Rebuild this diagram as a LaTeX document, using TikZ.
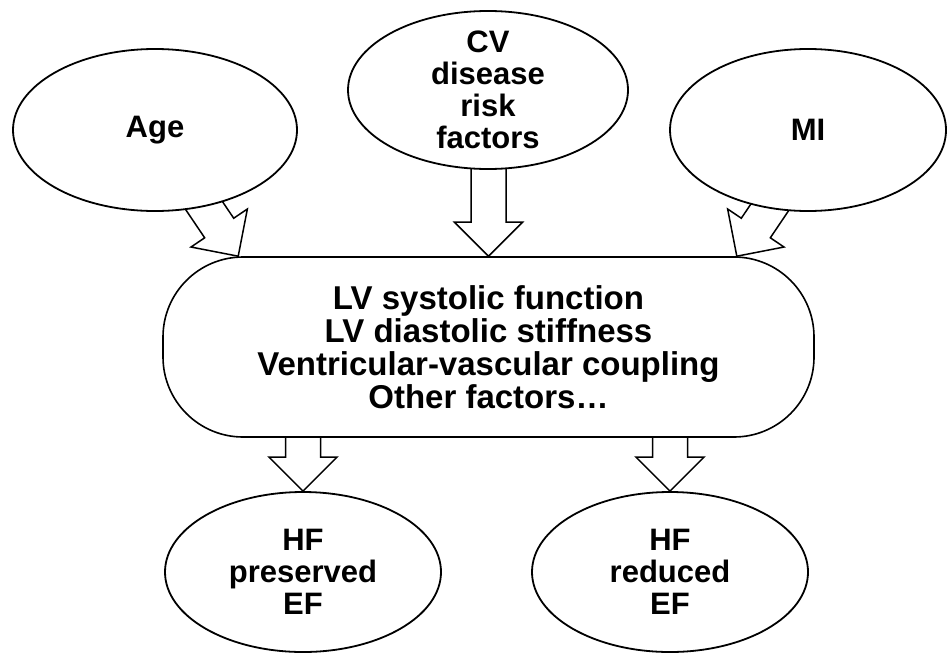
\documentclass[tikz,border=0pt]{standalone}
\usepackage{fontspec}
\setmainfont{Liberation Sans}
\usetikzlibrary{shapes.geometric,calc}
\pgfdeclarelayer{bg}
\pgfsetlayers{bg,main}
\tikzset{
  bubble/.style={ellipse, draw=black, line width=1.8pt, fill=white, inner sep=0pt},
  hub/.style={rectangle, draw=black, line width=1.6pt, fill=white, rounded corners=80pt,
    minimum width=651pt, minimum height=180pt, inner sep=0pt},
  txt/.style={align=center, inner sep=0pt, font=\bfseries\fontsize{31}{32}\selectfont},
  hubtxt/.style={txt, font=\bfseries\fontsize{33}{33}\selectfont},
  blockarrow/.style={draw=black, line width=1.5pt, fill=white, line join=miter,
    to path={let \p1=(\tikztostart), \p2=(\tikztotarget), \n1={atan2(\y2-\y1,\x2-\x1)} in
      ($(\p1)+(\n1+90:17.5pt)$)
      -- ($(\p2)+(\n1:-34pt)+(\n1+90:17.5pt)$)
      -- ($(\p2)+(\n1:-34pt)+(\n1+90:34pt)$)
      -- (\p2)
      -- ($(\p2)+(\n1:-34pt)+(\n1-90:34pt)$)
      -- ($(\p2)+(\n1:-34pt)+(\n1-90:17.5pt)$)
      -- ($(\p1)+(\n1-90:17.5pt)$) -- cycle}}
}
\begin{document}
\begin{tikzpicture}[x=1pt,y=-1pt]
\useasboundingbox (0,0) rectangle (952,656);
% shapes
\node[hub] (hub) at (488.5,347) {};
\node[hubtxt] (hubt) at (hub.center) {LV systolic function\\LV diastolic stiffness\\Ventricular-vascular coupling\\Other factors\ldots};
\node[bubble, minimum width=284pt, minimum height=162pt] (age) at (155,130) {};
\node[txt] (aget) at (age.center) {Age};
\node[bubble, minimum width=280pt, minimum height=158pt] (cv) at (488,90) {};
\node[txt] (cvt) at (cv.center) {CV\\disease\\risk\\factors};
\node[bubble, minimum width=276pt, minimum height=162pt] (mi) at (808,130) {};
\node[txt] (mit) at (mi.center) {MI};
\node[bubble, minimum width=276pt, minimum height=160pt] (hfp) at (303,572) {};
\node[txt] (hfpt) at (hfp.center) {HF\\preserved\\EF};
\node[bubble, minimum width=276pt, minimum height=160pt] (hfr) at (670,572) {};
\node[txt] (hfrt) at (hfr.center) {HF\\reduced\\EF};
% arrow end points
\coordinate (tipA) at ($(hub.north west)+(76,0)$);
\coordinate (tailA) at ($(tipA)+(124:80pt)$);
\coordinate (tipM) at ($(hub.north east)+(-78,0)$);
\coordinate (tailM) at ($(tipM)+(56:80pt)$);
\coordinate (tailC) at ($(hub.north)+(0,-110)$);
\coordinate (tailP) at ($(hfp.north)+(0,-90)$);
\coordinate (tailR) at ($(hfr.north)+(0,-90)$);
\begin{pgfonlayer}{bg}
\draw[blockarrow] (tailA) to (tipA);
\draw[blockarrow] (tailC) to (hub.north);
\draw[blockarrow] (tailM) to (tipM);
\draw[blockarrow] (tailP) to (hfp.north);
\draw[blockarrow] (tailR) to (hfr.north);
\end{pgfonlayer}
\end{tikzpicture}
\end{document}
